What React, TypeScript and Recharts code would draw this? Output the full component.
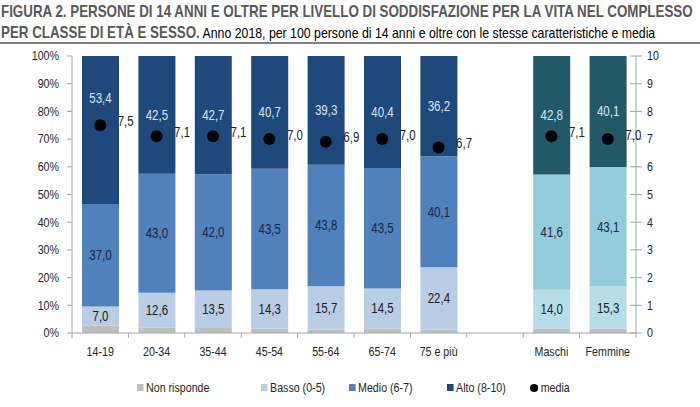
import React from "react";
import { ComposedChart, Bar, Scatter, XAxis, YAxis, Cell, LabelList } from "recharts";

const categories = ["14-19", "20-34", "35-44", "45-54", "55-64", "65-74", "75 e più", "", "Maschi", "Femmine"];
const groups = ["eta", "eta", "eta", "eta", "eta", "eta", "eta", "gap", "sesso", "sesso"];
const nonRisponde = [2.6, 1.9, 1.8, 1.5, 1.2, 1.6, 1.3, null, 1.6, 1.5];
const basso = [7.0, 12.6, 13.5, 14.3, 15.7, 14.5, 22.4, null, 14.0, 15.3];
const medio = [37.0, 43.0, 42.0, 43.5, 43.8, 43.5, 40.1, null, 41.6, 43.1];
const alto = [53.4, 42.5, 42.7, 40.7, 39.3, 40.4, 36.2, null, 42.8, 40.1];
const media = [7.5, 7.1, 7.1, 7.0, 6.9, 7.0, 6.7, null, 7.1, 7.0];

const leftTicks = [0, 10, 20, 30, 40, 50, 60, 70, 80, 90, 100];
const rightTicks = [0, 1, 2, 3, 4, 5, 6, 7, 8, 9, 10];

const data = categories.map((name, i) => ({
  name,
  group: groups[i],
  nr: nonRisponde[i],
  basso: basso[i],
  medio: medio[i],
  alto: alto[i],
  media: media[i],
}));

const colors = {
  eta: { nr: "#bfbfbf", basso: "#b9cde5", medio: "#4f81bd", alto: "#1f497d" },
  sesso: { nr: "#bfbfbf", basso: "#b7dee8", medio: "#93cddd", alto: "#215968" },
  gap: { nr: "#fff", basso: "#fff", medio: "#fff", alto: "#fff" },
};

const FONT = '"Liberation Sans", Arial, sans-serif';
const SX = 0.82; // squeeze to mimic Arial Narrow
const AXIS = "#a6a6a6";
const INK = "#262626";
const fmt = (v: number) => v.toFixed(1).replace(".", ",");

const W = 700;
const H = 407;
const PLOT_LEFT = 72;
const PLOT_RIGHT = 636;
const PLOT_TOP = 56;
const PLOT_BOTTOM = 333;
const BAND = (PLOT_RIGHT - PLOT_LEFT) / categories.length;

// narrow svg text
const NText = ({ x, y, children, fill = INK, size = 13, anchor = "middle" }: any) => (
  <g transform={`translate(${x},${y}) scale(${SX},1)`}>
    <text x={0} y={0} fill={fill} fontSize={size} fontFamily={FONT} textAnchor={anchor} dominantBaseline="central">
      {children}
    </text>
  </g>
);

function segLabel(fill: string, liftFirst = false) {
  return (p: any) => {
    const { x, y, width, height, value, index } = p;
    if (value == null) return null;
    const lift = liftFirst && index === 0 ? 32 : 0;
    return (
      <NText x={x + width / 2} y={y + height / 2 - lift} fill={fill} size={14}>
        {fmt(value)}
      </NText>
    );
  };
}

const XTick = (p: any) => {
  const { x, payload, index } = p;
  const bx = x - BAND / 2;
  return (
    <g>
      <line x1={bx} x2={bx} y1={PLOT_BOTTOM} y2={PLOT_BOTTOM + 5} stroke={AXIS} />
      {index === categories.length - 1 && (
        <line x1={x + BAND / 2} x2={x + BAND / 2} y1={PLOT_BOTTOM} y2={PLOT_BOTTOM + 5} stroke={AXIS} />
      )}
      <NText x={x} y={PLOT_BOTTOM + 19} size={13}>
        {payload.value}
      </NText>
    </g>
  );
};

const LeftTick = (p: any) => {
  const { y, payload } = p;
  return (
    <NText x={PLOT_LEFT - 13} y={y} size={13} anchor="end">
      {`${payload.value}%`}
    </NText>
  );
};

const RightTick = (p: any) => {
  const { y, payload } = p;
  return (
    <g>
      <line x1={PLOT_RIGHT - 6} x2={PLOT_RIGHT + 6} y1={y} y2={y} stroke={AXIS} />
      <NText x={PLOT_RIGHT + 11} y={y} size={13} anchor="start">
        {payload.value}
      </NText>
    </g>
  );
};

const Dot = (p: any) => {
  if (p.payload.media == null) return null;
  return <circle cx={p.cx} cy={p.cy} r={6} fill="#000" />;
};

const MediaLabel = (p: any) => {
  const { x, y, value } = p;
  if (value == null) return null;
  return (
    <NText x={x + 30} y={y} size={14}>
      {fmt(value)}
    </NText>
  );
};

const legendItems = [
  { label: "Non risponde", color: "#bfbfbf", left: 137 },
  { label: "Basso (0-5)", color: "#b9cde5", left: 261 },
  { label: "Medio (6-7)", color: "#4f81bd", left: 349 },
  { label: "Alto (8-10)", color: "#1f497d", left: 447 },
];

const squeeze: React.CSSProperties = { transform: `scaleX(${SX})`, transformOrigin: "0 0", whiteSpace: "nowrap" };

export default function App() {
  return (
    <div style={{ position: "absolute", left: 0, top: 0, width: W, height: H, background: "#fff", fontFamily: FONT, overflow: "hidden" }}>
      <div style={{ position: "absolute", left: 1, top: 1, color: "#595959", fontSize: 16.3, lineHeight: "21px", ...squeeze }}>
        <div style={{ fontWeight: 700 }}>FIGURA 2. PERSONE DI 14 ANNI E OLTRE PER LIVELLO DI SODDISFAZIONE PER LA VITA NEL COMPLESSO</div>
        <div>
          <span style={{ fontWeight: 700 }}>PER CLASSE DI ETÀ E SESSO.</span>
          <span style={{ color: "#000", fontSize: 15 }}> Anno 2018, per 100 persone di 14 anni e oltre con le stesse caratteristiche e media</span>
        </div>
      </div>
      <div style={{ position: "absolute", left: 0, top: 42, width: W, height: 2, background: "#7f7f7f" }} />
      <div style={{ position: "absolute", left: 0, top: 0 }}>
        <ComposedChart
          width={W}
          height={H}
          data={data}
          margin={{ top: PLOT_TOP, right: W - PLOT_RIGHT - 40, left: PLOT_LEFT - 60, bottom: H - PLOT_BOTTOM - 30 }}
          barSize={37}
        >
          <XAxis dataKey="name" height={30} stroke={AXIS} tickLine={false} tick={<XTick />} interval={0} />
          <YAxis
            yAxisId="pct"
            width={60}
            domain={[0, 100]}
            ticks={leftTicks}
            stroke={AXIS}
            tickSize={5}
            tick={<LeftTick />}
          />
          <YAxis
            yAxisId="media"
            orientation="right"
            width={40}
            domain={[0, 10]}
            ticks={rightTicks}
            stroke={AXIS}
            tickLine={false}
            tick={<RightTick />}
          />
          {(["nr", "basso", "medio", "alto"] as const).map((k) => (
            <Bar key={k} yAxisId="pct" dataKey={k} stackId="s" isAnimationActive={false}>
              {data.map((d, i) => (
                <Cell key={i} fill={colors[d.group as keyof typeof colors][k]} />
              ))}
              {k === "basso" && <LabelList dataKey="basso" content={segLabel("#1c1c1c")} />}
              {k === "medio" && <LabelList dataKey="medio" content={segLabel("#1c2640")} />}
              {k === "alto" && <LabelList dataKey="alto" content={segLabel("#dce6f2", true)} />}
            </Bar>
          ))}
          <Scatter yAxisId="media" dataKey="media" shape={<Dot />} isAnimationActive={false}>
            <LabelList dataKey="media" content={<MediaLabel />} />
          </Scatter>
        </ComposedChart>
      </div>
      <div style={{ position: "absolute", left: 0, top: 380, width: W, height: 20, fontSize: 13, color: INK }}>
        {legendItems.map((it) => (
          <div key={it.label} style={{ position: "absolute", left: it.left, top: 0, display: "flex", alignItems: "center", ...squeeze }}>
            <span style={{ display: "inline-block", width: 8, height: 7, background: it.color, marginRight: 3 }} />
            {it.label}
          </div>
        ))}
        <div style={{ position: "absolute", left: 530, top: 0, display: "flex", alignItems: "center", ...squeeze }}>
          <span style={{ display: "inline-block", width: 10, height: 8, borderRadius: "50%", background: "#000", marginRight: 3 }} />
          media
        </div>
      </div>
    </div>
  );
}
